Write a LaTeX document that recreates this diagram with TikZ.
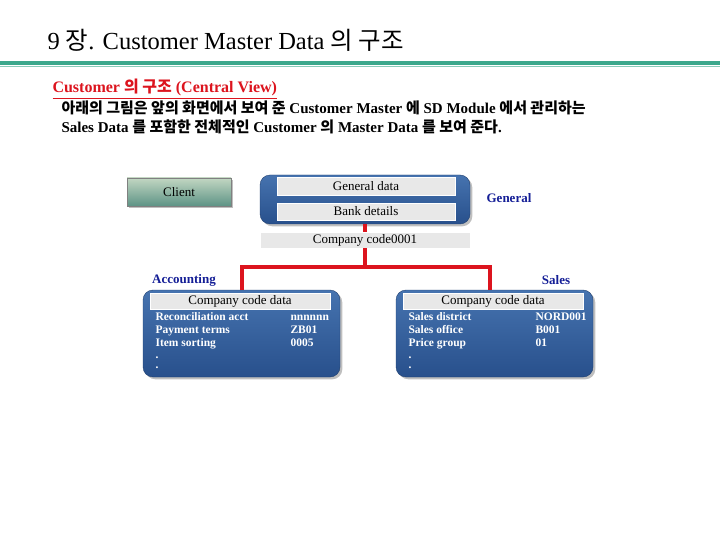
\documentclass[tikz,border=0pt]{standalone}
\usepackage{fontspec}
\setmainfont{Liberation Serif}
\newfontfamily\kr{Noto Sans CJK KR}
\usetikzlibrary{shadows}
\definecolor{teal}{RGB}{60,168,140}
\definecolor{boxblue}{RGB}{40,80,140}
\definecolor{boxtop}{RGB}{70,115,175}
\definecolor{barGrey}{RGB}{232,232,232}
\definecolor{labBlue}{RGB}{20,30,150}
\definecolor{redline}{RGB}{220,20,30}
\tikzset{
  bluebox/.style={rounded corners=10pt, top color=boxtop, bottom color=boxblue, draw=boxblue!80!black, drop shadow},
  bar/.style={fill=barGrey, draw=white, inner sep=0pt},
  lab/.style={text=labBlue, font=\bfseries\fontsize{13}{13}\selectfont},
  row/.style={text=white, anchor=base west, font=\bfseries\fontsize{11.5}{11.5}\selectfont},
  bartext/.style={font=\fontsize{13}{13}\selectfont},
}
\begin{document}
\begin{tikzpicture}[x=1pt,y=-1pt]
\useasboundingbox (0,0) rectangle (720,540);
% title
\node[anchor=base west, font=\fontsize{24.5}{24.5}\selectfont] (title) at (44,50) {9 {\kr 장}. Customer Master Data {\kr 의 구조}};
\fill[teal] (0,61) rectangle (720,65);
\draw[teal!60, line width=1pt] (0,67) -- (720,67);
\node[anchor=base west, text=redline, font=\bfseries\fontsize{16}{16}\selectfont] (sub) at (49,93)
  {\underline{Customer {\kr 의 구조} (Central View)}};
\node[anchor=base west, font=\bfseries\fontsize{15}{15}\selectfont] (l1) at (58,114)
  {{\kr 아래의 그림은 앞의 화면에서 보여 준} Customer Master {\kr 에} SD Module {\kr 에서 관리하는}};
\node[anchor=base west, font=\bfseries\fontsize{15}{15}\selectfont] (l2) at (58,133)
  {Sales Data {\kr 를 포함한 전체적인} Customer {\kr 의} Master Data {\kr 를 보여 준다}.};
% client
\node[minimum width=104pt, minimum height=28pt, top color=green!20!gray!40, bottom color=teal!50!gray, draw=gray, drop shadow, bartext] (client) at (179,192) {Client};
% general
\node[bluebox, minimum width=210pt, minimum height=49pt] (gen) at (365,199.5) {};
\node[bar, minimum width=178pt, minimum height=18pt, bartext] (gdata) at (366,186) {General data};
\node[bar, minimum width=178pt, minimum height=17pt, bartext] (bank) at (366,211.5) {Bank details};
\node[lab] (genlab) at (509,198) {General};
\node[bar, minimum width=210pt, minimum height=16pt, bartext] (cc) at (365,240) {Company code0001};
% accounting / sales boxes
\node[bluebox, minimum width=197pt, minimum height=87pt] (acc) at (241.5,333.5) {};
\node[bluebox, minimum width=197pt, minimum height=87pt] (sal) at (494.5,333.5) {};
\node[bar, minimum width=180pt, minimum height=16pt, bartext] (acch) at (240,301) {Company code data};
\node[bar, minimum width=180pt, minimum height=16pt, bartext] (salh) at (493,301) {Company code data};
\node[lab] (acclab) at (184,280) {Accounting};
\node[lab] (sallab) at (556,280) {Sales};
% connectors
\coordinate (jn) at (365,267);
\draw[redline, line width=4pt] (gen.south) -- (cc.north) (cc.south) -- (jn);
\draw[redline, line width=4pt] (242,290) |- (jn) -| (490,290);
% rows
\node[row] (a1) at (152,320) {Reconciliation acct};
\node[row] (a1v) at (287,320) {nnnnnn};
\node[row] (a2) at (152,333) {Payment terms};
\node[row] (a2v) at (287,333) {ZB01};
\node[row] (a3) at (152,346) {Item sorting};
\node[row] (a3v) at (287,346) {0005};
\node[row] (a4) at (152,358) {.};
\node[row] (a5) at (152,368) {.};
\node[row] (s1) at (405,320) {Sales district};
\node[row] (s1v) at (532,320) {NORD001};
\node[row] (s2) at (405,333) {Sales office};
\node[row] (s2v) at (532,333) {B001};
\node[row] (s3) at (405,346) {Price group};
\node[row] (s3v) at (532,346) {01};
\node[row] (s4) at (405,358) {.};
\node[row] (s5) at (405,368) {.};
\end{tikzpicture}
\end{document}
